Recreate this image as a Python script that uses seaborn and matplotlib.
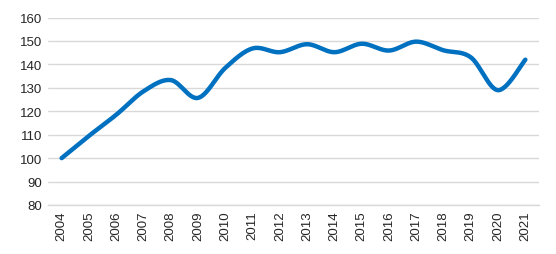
import matplotlib
matplotlib.use("Agg")
import matplotlib.pyplot as plt
import numpy as np
import pandas as pd
import seaborn as sns

years = list(range(2004, 2022))
values = [100, 109.5, 118.5, 128.5, 133.3, 125.7, 138.5, 146.8, 145.2, 148.6,
          145.2, 148.8, 145.9, 149.7, 146.0, 143.0, 129.0, 142.0]
y_ticks = [80, 90, 100, 110, 120, 130, 140, 150, 160]

line_color = "#0070C0"
grid_color = "#D9D9D9"
text_color = "#262626"


def smooth_curve(xs, ys, n=30):
    # Catmull-Rom bezier, like a spreadsheet "smoothed line"
    xs = np.asarray(xs, float)
    ys = np.asarray(ys, float)
    px = np.concatenate([[xs[0]], xs, [xs[-1]]])
    py = np.concatenate([[ys[0]], ys, [ys[-1]]])
    out_x, out_y = [], []
    t = np.linspace(0, 1, n, endpoint=False)
    for i in range(1, len(px) - 2):
        p0, p1, p2, p3 = [np.array([px[j], py[j]]) for j in (i - 1, i, i + 1, i + 2)]
        c1 = p1 + (p2 - p0) / 6
        c2 = p2 - (p3 - p1) / 6
        b = ((1 - t) ** 3)[:, None] * p1 + (3 * (1 - t) ** 2 * t)[:, None] * c1 \
            + (3 * (1 - t) * t ** 2)[:, None] * c2 + (t ** 3)[:, None] * p2
        out_x.extend(b[:, 0])
        out_y.extend(b[:, 1])
    out_x.append(xs[-1])
    out_y.append(ys[-1])
    return np.array(out_x), np.array(out_y)


sns.set_style("white")
plt.rcParams["font.family"] = ["Liberation Sans", "DejaVu Sans"]

fig = plt.figure(figsize=(5.56, 2.55), dpi=100)
ax = fig.add_axes([48 / 556, 1 - 206 / 255, (539 - 48) / 556, (206 - 18.5) / 255])

sx, sy = smooth_curve(range(len(years)), values)
df = pd.DataFrame({"x": sx, "y": sy})
sns.lineplot(data=df, x="x", y="y", ax=ax, color=line_color, linewidth=3.2,
             sort=False, estimator=None, solid_capstyle="round")

ax.set_xlim(-0.5, len(years) - 0.5)
ax.set_ylim(80, 160)
ax.set_yticks(y_ticks)
ax.set_yticklabels([str(v) for v in y_ticks], fontsize=9.5, color=text_color)
ax.set_xticks(range(len(years)))
ax.set_xticklabels([str(y) for y in years], rotation=90, fontsize=9.5, color=text_color)
ax.tick_params(length=0, pad=4)
ax.set_xlabel("")
ax.set_ylabel("")
ax.grid(axis="y", color=grid_color, linewidth=1)
ax.set_axisbelow(True)
for side in ["top", "right", "left"]:
    ax.spines[side].set_visible(False)
ax.spines["bottom"].set_color(grid_color)
ax.spines["bottom"].set_linewidth(1)

fig.savefig("out.png", dpi=100)
